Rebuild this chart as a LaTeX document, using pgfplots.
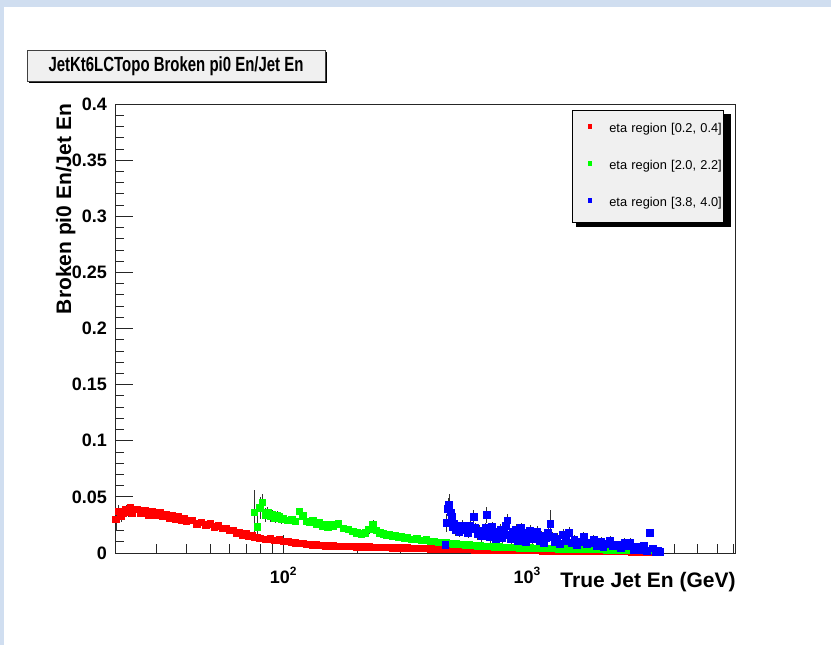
\documentclass[border=0pt]{standalone}
\usepackage{pgfplots}
\pgfplotsset{compat=1.18}
\usepackage{pgfplotstable}
\usepackage{fontspec}
\setmainfont{Liberation Sans}
\newfontfamily\titlefont[FakeStretch=0.73]{Liberation Sans}

\definecolor{canvasblue}{RGB}{208,222,240}
\definecolor{panelgrey}{RGB}{240,240,240}
\definecolor{rootred}{RGB}{255,0,0}
\definecolor{rootgreen}{RGB}{0,255,0}
\definecolor{rootblue}{RGB}{0,0,255}

% eta region [0.2, 0.4]
\pgfplotstableread{
E y e
20 0.033 0.016
20.5 0.030 0.010
21 0.037 0.006
21.5 0.033 0.005
22 0.035 0.004
22.5 0.039 0.004
23 0.036 0.004
23.5 0.040 0.004
24 0.035 0.003
25 0.039 0.003
26 0.035 0.003
27 0.038 0.003
28 0.034 0.003
29 0.037 0.003
30 0.034 0.003
31 0.036 0.003
32 0.033 0.003
33 0.034 0.003
34 0.031 0.002
35 0.033 0.002
36 0.030 0.002
37 0.032 0.002
38 0.029 0.002
39 0.031 0.002
40 0.028 0.002
42 0.029 0.002
44 0.026 0.002
46 0.027 0.002
48 0.025 0.002
50 0.026 0.002
52 0.023 0.002
54 0.024 0.002
56 0.022 0.002
58 0.022 0.0015
60 0.020 0.0015
62 0.020 0.0015
64 0.018 0.0015
66 0.018 0.0015
68 0.016 0.0015
70 0.017 0.0015
72 0.015 0.0015
74 0.015 0.0015
76 0.014 0.0015
78 0.014 0.0015
80 0.013 0.0015
84 0.012 0.0012
88 0.0125 0.0012
92 0.011 0.0012
96 0.0115 0.0012
100 0.0105 0.0012
104 0.0100 0.0012
108 0.0094 0.001
112 0.0090 0.001
116 0.0084 0.001
120 0.0083 0.001
124 0.0077 0.001
128 0.0076 0.001
132 0.0072 0.001
136 0.0072 0.001
140 0.0068 0.001
144 0.0068 0.001
148 0.0064 0.001
152 0.0064 0.001
156 0.0061 0.001
160 0.0062 0.001
168 0.0059 0.001
176 0.0060 0.001
184 0.0057 0.001
192 0.0058 0.001
200 0.0055 0.001
208 0.0055 0.001
216 0.0053 0.001
224 0.0053 0.001
232 0.0051 0.001
240 0.0051 0.001
248 0.0049 0.001
256 0.0049 0.001
264 0.0047 0.001
272 0.0047 0.001
280 0.0046 0.001
288 0.0045 0.001
296 0.0045 0.001
304 0.0044 0.001
312 0.0043 0.001
320 0.0043 0.001
336 0.0041 0.001
352 0.0040 0.001
368 0.0039 0.001
384 0.0038 0.001
400 0.0037 0.001
416 0.0036 0.001
432 0.0035 0.001
448 0.0034 0.001
464 0.0034 0.001
480 0.0033 0.001
496 0.0032 0.001
512 0.0032 0.001
528 0.0031 0.001
544 0.0030 0.001
560 0.0030 0.001
576 0.0029 0.001
592 0.0029 0.001
608 0.0028 0.001
624 0.0028 0.001
640 0.0027 0.001
672 0.0026 0.001
704 0.0026 0.001
736 0.0025 0.001
768 0.0024 0.001
800 0.0024 0.001
832 0.0023 0.001
864 0.0023 0.001
896 0.0022 0.001
928 0.0022 0.001
960 0.0021 0.001
992 0.0021 0.001
1024 0.0020 0.001
1088 0.0020 0.001
1152 0.0019 0.001
1216 0.0018 0.001
1280 0.0018 0.001
1344 0.0017 0.001
1408 0.0017 0.001
1472 0.0016 0.001
1536 0.0016 0.001
1600 0.0015 0.001
1664 0.0015 0.001
1728 0.0015 0.001
1792 0.0014 0.001
1856 0.0014 0.001
1920 0.0014 0.001
1984 0.0013 0.001
2048 0.0013 0.001
2112 0.0013 0.001
2176 0.0012 0.001
2240 0.0012 0.001
2304 0.0012 0.001
2368 0.0012 0.001
2432 0.0011 0.001
2496 0.0011 0.001
2560 0.0011 0.001
2688 0.0010 0.001
2816 0.0010 0.001
2944 0.0010 0.001
3072 0.0009 0.001
3200 0.0009 0.001
3328 0.0009 0.001
3456 0.0008 0.001
}\etaone

% eta region [2.0, 2.2]
\pgfplotstableread{
E y e
76 0.036 0.020
78 0.023 0.012
80 0.040 0.010
82 0.045 0.008
84 0.034 0.006
86 0.036 0.005
88 0.033 0.005
90 0.034 0.004
92 0.031 0.004
94 0.033 0.004
96 0.032 0.004
98 0.030 0.004
100 0.031 0.003
104 0.029 0.003
108 0.030 0.003
112 0.028 0.003
116 0.037 0.003
120 0.033 0.003
124 0.028 0.003
128 0.027 0.003
132 0.029 0.003
136 0.026 0.003
140 0.027 0.003
144 0.024 0.003
148 0.025 0.003
152 0.023 0.003
156 0.025 0.003
160 0.024 0.003
168 0.026 0.003
176 0.022 0.003
184 0.021 0.003
192 0.019 0.003
200 0.018 0.003
208 0.017 0.003
216 0.018 0.003
224 0.021 0.004
232 0.025 0.004
240 0.020 0.003
248 0.018 0.003
256 0.017 0.003
264 0.016 0.002
272 0.0165 0.002
280 0.015 0.002
288 0.0155 0.002
296 0.014 0.002
304 0.0145 0.002
312 0.013 0.002
320 0.0135 0.002
336 0.012 0.002
352 0.0125 0.002
368 0.011 0.002
384 0.0115 0.002
400 0.010 0.002
416 0.0105 0.002
432 0.0095 0.002
448 0.0092 0.002
464 0.0088 0.002
480 0.0087 0.002
496 0.0080 0.002
512 0.0080 0.002
528 0.0075 0.002
544 0.0074 0.002
560 0.0070 0.002
576 0.0070 0.002
592 0.0066 0.002
608 0.0066 0.002
624 0.0062 0.002
640 0.0062 0.002
672 0.0058 0.002
704 0.0058 0.002
736 0.0054 0.002
768 0.0054 0.002
800 0.0050 0.002
832 0.0051 0.002
864 0.0048 0.002
896 0.0049 0.002
928 0.0046 0.002
960 0.0047 0.002
992 0.0044 0.002
1024 0.0045 0.002
1088 0.0042 0.002
1152 0.0041 0.002
1216 0.0039 0.002
1280 0.0039 0.002
1344 0.0037 0.002
1408 0.0037 0.002
1472 0.0035 0.002
1536 0.0035 0.002
1600 0.0033 0.002
1664 0.0034 0.002
1728 0.0032 0.002
1792 0.0032 0.002
1856 0.0030 0.002
1920 0.0031 0.002
1984 0.0029 0.002
2048 0.0030 0.002
2112 0.0028 0.002
2176 0.0029 0.002
2240 0.0027 0.002
2304 0.0028 0.002
2368 0.0026 0.002
2432 0.0027 0.002
2496 0.0025 0.002
2560 0.0026 0.002
2688 0.0024 0.002
2816 0.0024 0.002
2944 0.0022 0.002
3072 0.0023 0.002
3200 0.0021 0.002
3328 0.0021 0.002
3456 0.0020 0.002
}\etatwo

% eta region [3.8, 4.0]
\pgfplotstableread{
E y e
461 0.007 0.004
466 0.027 0.008
472 0.039 0.010
478 0.043 0.010
484 0.036 0.008
490 0.032 0.006
496 0.023 0.006
502 0.026 0.006
508 0.020 0.005
514 0.024 0.005
520 0.021 0.005
526 0.019 0.005
532 0.022 0.005
540 0.024 0.005
548 0.020 0.005
556 0.023 0.005
564 0.021 0.005
572 0.018 0.005
580 0.024 0.005
590 0.021 0.005
601 0.032 0.006
612 0.022 0.005
624 0.017 0.005
636 0.020 0.005
648 0.015 0.005
660 0.019 0.005
672 0.022 0.005
680 0.034 0.007
692 0.018 0.005
704 0.014 0.005
716 0.023 0.005
728 0.016 0.005
740 0.012 0.005
752 0.019 0.005
764 0.015 0.005
776 0.021 0.005
788 0.013 0.005
800 0.017 0.005
814 0.024 0.006
828 0.029 0.006
842 0.016 0.005
856 0.012 0.005
870 0.019 0.005
884 0.014 0.005
898 0.021 0.005
912 0.011 0.005
926 0.016 0.005
940 0.022 0.005
956 0.013 0.005
972 0.018 0.005
988 0.010 0.005
1004 0.015 0.005
1024 0.020 0.005
1048 0.012 0.005
1072 0.017 0.005
1096 0.019 0.005
1120 0.011 0.005
1144 0.015 0.005
1168 0.009 0.005
1192 0.013 0.005
1216 0.018 0.005
1243 0.026 0.012
1270 0.014 0.005
1300 0.010 0.005
1327 0.013 0.005
1360 0.008 0.004
1400 0.016 0.005
1440 0.011 0.004
1480 0.018 0.005
1520 0.009 0.004
1560 0.012 0.004
1600 0.007 0.004
1649 0.010 0.004
1700 0.014 0.005
1750 0.008 0.004
1812 0.009 0.004
1870 0.012 0.004
1930 0.006 0.003
2000 0.010 0.004
2048 0.005 0.003
2110 0.008 0.003
2180 0.011 0.004
2250 0.006 0.003
2337 0.007 0.003
2420 0.004 0.003
2500 0.009 0.004
2570 0.006 0.003
2642 0.009 0.004
2720 0.003 0.002
2800 0.005 0.003
2904 0.003 0.002
3000 0.006 0.003
3100 0.002 0.002
3192 0.018 0.000
3270 0.004 0.002
3350 0.001 0.001
3430 0.002 0.001
3508 0.001 0.001
}\etathree

\begin{document}
\begin{tikzpicture}
% canvas
\path[use as bounding box] (-57.5pt,-46pt) rectangle (358pt,276.5pt);
\fill[white] (-57.5pt,-46pt) rectangle (358pt,276.5pt);
\fill[canvasblue] (-57.5pt,273pt) rectangle (358pt,276.5pt);
\fill[canvasblue] (-57.5pt,-46pt) rectangle (-55.5pt,276.5pt);

% title pave
\fill[black] (-43pt,235pt) rectangle (106pt,250.5pt);
\filldraw[fill=panelgrey, draw=black!75, line width=0.4pt] (-44pt,236pt) rectangle (105pt,251.5pt);
\node[font=\titlefont\fontsize{10.25}{12}\selectfont\bfseries] at (30.5pt,243.6pt) {JetKt6LCTopo Broken pi0 En/Jet En};

% shadow behind the legend box
\fill[black] (230.5pt,163pt) rectangle (308pt,219.5pt);

\begin{axis}[
  at={(0,0)}, anchor=south west, scale only axis,
  width=310pt, height=224.5pt,
  xmode=log, xmin=20.3, xmax=7100, ymin=0, ymax=0.4,
  axis line style={black!85, line width=0.5pt},
  tick pos=left, tick align=inside,
  major tick length=9pt, minor tick length=4.5pt,
  tick style={black!85, line width=0.4pt},
  ytick={0,0.05,0.1,0.15,0.2,0.25,0.3,0.35,0.4},
  minor y tick num=4,
  xtick={100,1000},
  xticklabels={10\textsuperscript{2},10\textsuperscript{3}},
  minor xtick={30,40,50,60,70,80,90,200,300,400,500,600,700,800,900,2000,3000,4000,5000,6000,7000},
  /pgf/number format/assume math mode=true,
  yticklabel style={/pgf/number format/fixed, /pgf/number format/precision=2, xshift=-0.5pt},
  ticklabel style={font=\fontsize{9}{10}\selectfont\bfseries},
  xticklabel style={yshift=-3.5pt},
  label style={font=\fontsize{10.5}{12}\selectfont\bfseries},
  xlabel={True Jet En (GeV)},
  xlabel style={at={(rel axis cs:1,0)}, anchor=base east, yshift=-17pt, xshift=3.8pt},
  ylabel={Broken pi0 En/Jet En},
  ylabel style={at={(rel axis cs:0,1)}, anchor=base east, yshift=22pt, xshift=3.5pt},
  legend cell align=left,
  legend style={at={(rel axis cs:0.737,0.9866)}, anchor=north west,
    fill=panelgrey, draw=black, line width=0.4pt,
    font=\fontsize{6.4}{8}\selectfont,
    inner xsep=0pt, inner ysep=6.5pt, row sep=12.5pt,
    nodes={inner sep=0pt, text height=4.5pt, text depth=1.5pt, text width=57pt, align=left}},
  legend image code/.code={
    \path[draw=none, fill=none] (0pt,-2pt) rectangle (18.5pt,2pt);
    \draw[#1, mark size=0.8pt] plot coordinates {(9pt,1.5pt)};
  },
  error bars/y dir=both, error bars/y explicit,
  error bars/error mark=none,
  error bars/error bar style={black!80, line width=0.35pt},
]
\addplot[rootred, only marks, mark=square*, mark size=1.6pt, mark options={draw=rootred, fill=rootred, line width=0pt}]
  table[x=E, y=y, y error=e] {\etaone};
\addlegendentry{eta region [0.2, 0.4]}
\addplot[rootgreen, only marks, mark=square*, mark size=1.6pt, mark options={draw=rootgreen, fill=rootgreen, line width=0pt}]
  table[x=E, y=y, y error=e] {\etatwo};
\addlegendentry{eta region [2.0, 2.2]}
\addplot[rootblue, only marks, mark=square*, mark size=1.7pt, mark options={draw=rootblue, fill=rootblue, line width=0pt}]
  table[x=E, y=y, y error=e] {\etathree};
\addlegendentry{eta region [3.8, 4.0]}
\end{axis}
\end{tikzpicture}
\end{document}
